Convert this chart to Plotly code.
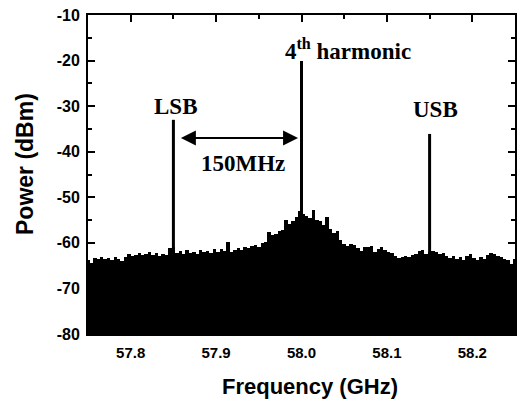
import numpy as np
import plotly.graph_objects as go

# Noise-floor envelope (dBm), read at 0.004 GHz steps from 57.75 GHz
noise_db = [
    -63.8, -64.4, -63.3, -63.5, -63.2, -63.6, -63.3, -63.8, -63.2, -63.6,
    -63.9, -63.1, -62.4, -62.9, -62.7, -62.2, -62.6, -62.4, -62.1, -62.6,
    -62.3, -62.8, -62.5, -62.7, -61.2, -61.0, -62.3, -61.8, -62.5, -61.6,
    -62.2, -61.9, -62.4, -61.5, -62.1, -61.7, -62.3, -61.4, -61.9, -61.3,
    -61.8, -59.8, -62.0, -61.5, -61.2, -61.6, -60.9, -61.1, -60.6, -60.4,
    -60.8, -60.1, -59.9, -57.7, -58.3, -58.0, -57.5, -57.2, -55.0, -55.9,
    -55.1, -54.3, -52.9, -53.6, -54.0, -54.6, -52.8, -54.9, -55.3, -56.1,
    -54.3, -56.9, -57.9, -57.4, -59.3, -60.2, -60.6, -60.3, -60.5, -61.2,
    -61.8, -61.0, -60.8, -60.6, -61.9, -61.3, -61.0, -61.6, -61.9, -62.3,
    -62.8, -63.4, -63.0, -62.9, -63.2, -62.7, -62.5, -61.8, -61.6, -62.4,
    -62.0, -61.8, -62.0, -62.4, -62.2, -62.9, -63.4, -62.8, -63.6, -63.2,
    -63.8, -62.9, -62.5, -63.3, -63.7, -63.1, -63.6, -62.6, -62.3, -62.5,
    -62.9, -63.2, -63.5, -63.8, -64.6, -63.5,
]
f_start, f_step = 57.75, 0.004
noise_freq = [round(f_start + i * f_step, 4) for i in range(len(noise_db))]

# Discrete tones
peak_freq = [57.85, 58.0, 58.15]
peak_db = [-33.0, -20.1, -36.1]
peak_names = ["LSB", "4<sup>th</sup> harmonic", "USB"]

floor_db = -80
x_ticks = [57.8, 57.9, 58.0, 58.1, 58.2]
y_ticks = [-80, -70, -60, -50, -40, -30, -20, -10]

W, H = 517, 406
L, R, T, B = 88, 2, 15, 72
PW, PH = W - L - R, H - T - B


def px_to_paper(px, py):
    return (px - L) / PW, (H - B - py) / PH


fig = go.Figure()

fig.add_trace(go.Bar(
    x=noise_freq,
    y=[v - floor_db for v in noise_db],
    base=floor_db,
    width=f_step,
    marker=dict(color="black", line=dict(width=0)),
    showlegend=False,
))

for f, p in zip(peak_freq, peak_db):
    fig.add_trace(go.Scatter(
        x=[f, f], y=[floor_db, p], mode="lines",
        line=dict(color="black", width=3), showlegend=False,
    ))

serif = dict(family="Liberation Serif", size=23, color="black", weight="bold")
xtitle_font = dict(family="Liberation Sans", size=22, color="black", weight="bold")
ytitle_font = dict(family="Liberation Sans", size=23, color="black", weight="bold")

xt_x, xt_y = px_to_paper(309.5, 386)
yt_x, yt_y = px_to_paper(25, 164)

annotations = [
    dict(x=57.853, y=-30.0, text=peak_names[0], showarrow=False, font=serif, xref="x", yref="y"),
    dict(x=58.055, y=-17.6, text=peak_names[1], showarrow=False, font=serif, xref="x", yref="y"),
    dict(x=58.157, y=-30.8, text=peak_names[2], showarrow=False, font=serif, xref="x", yref="y"),
    dict(x=57.931, y=-42.5, text="150MHz", showarrow=False, font=serif, xref="x", yref="y"),
    dict(x=57.996, y=-37.0, ax=57.857, ay=-37.0, xref="x", yref="y", axref="x", ayref="y",
         showarrow=True, arrowhead=2, arrowside="end+start", arrowsize=1.5, arrowwidth=2,
         arrowcolor="black", text=""),
    dict(x=xt_x, y=xt_y, xref="paper", yref="paper", text="Frequency (GHz)",
         showarrow=False, font=xtitle_font, xanchor="center", yanchor="middle"),
    dict(x=yt_x, y=yt_y, xref="paper", yref="paper", text="Power (dBm)",
         showarrow=False, font=ytitle_font, textangle=-90, xanchor="center", yanchor="middle"),
]

fig.update_layout(
    width=W, height=H,
    margin=dict(l=L, r=R, t=T, b=B, autoexpand=False),
    paper_bgcolor="white", plot_bgcolor="white",
    bargap=0,
    annotations=annotations,
    xaxis=dict(
        range=[57.75, 58.25], tickvals=x_ticks, ticktext=[f"{v:.1f}" for v in x_ticks],
        ticks="inside", ticklen=7, tickwidth=2, tickcolor="black",
        minor=dict(dtick=0.05, tick0=57.75, ticks="inside", ticklen=4, tickwidth=2, tickcolor="black"),
        showline=True, linecolor="black", linewidth=2, mirror="allticks",
        showgrid=False, zeroline=False,
        tickfont=dict(family="Liberation Sans", size=15, color="black", weight="bold"),
        ticklabelstandoff=4,
    ),
    yaxis=dict(
        range=[-80, -10], tickvals=y_ticks, ticktext=[str(v) for v in y_ticks],
        ticks="inside", ticklen=7, tickwidth=2, tickcolor="black",
        minor=dict(dtick=5, tick0=-80, ticks="inside", ticklen=4, tickwidth=2, tickcolor="black"),
        showline=True, linecolor="black", linewidth=2, mirror="allticks",
        showgrid=False, zeroline=False,
        tickfont=dict(family="Liberation Sans", size=16, color="black", weight="bold"),
        ticklabelstandoff=3,
    ),
)

fig.write_html("out.html", config={"displayModeBar": False},
               post_script="document.body.style.margin='0';")
